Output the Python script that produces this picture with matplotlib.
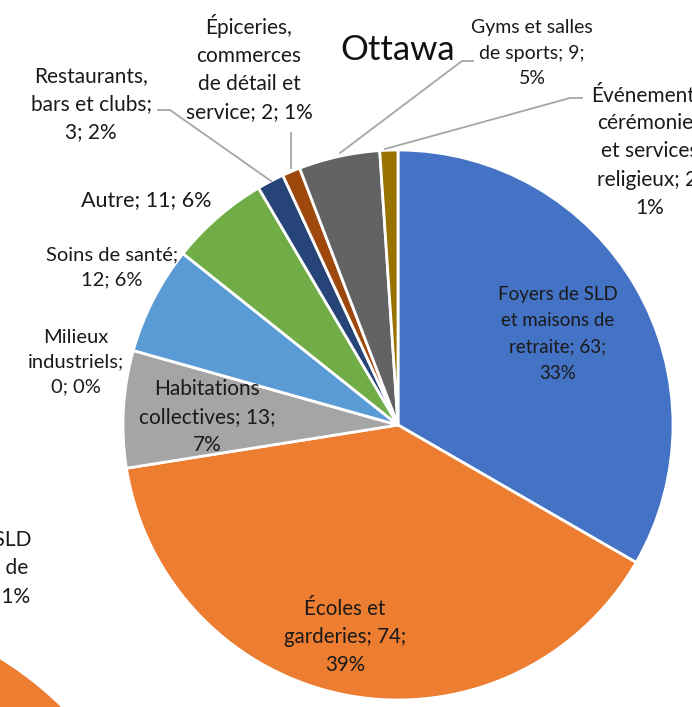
import matplotlib
matplotlib.use("Agg")
import matplotlib.pyplot as plt

# =========================
# DATA
# =========================
categories = [
    "Foyers de SLD et maisons de retraite",
    "Écoles et garderies",
    "Habitations collectives",
    "Milieux industriels",
    "Soins de santé",
    "Autre",
    "Restaurants, bars et clubs",
    "Épiceries, commerces de détail et service",
    "Gyms et salles de sports",
    "Événements, cérémonies et services religieux",
]
counts = [63, 74, 13, 0, 12, 11, 3, 2, 9, 2]
percents = [33, 39, 7, 0, 6, 6, 2, 1, 5, 1]
label_text = [
    "Foyers de SLD\net maisons de\nretraite; 63;\n33%",
    "Écoles et\ngarderies; 74;\n39%",
    "Habitations\ncollectives; 13;\n7%",
    "Milieux\nindustriels;\n0; 0%",
    "Soins de santé;\n12; 6%",
    "Autre; 11; 6%",
    "Restaurants,\nbars et clubs;\n3; 2%",
    "Épiceries,\ncommerces\nde détail et\nservice; 2; 1%",
    "Gyms et salles\nde sports; 9;\n5%",
    "Événements,\ncérémonies\net services\nreligieux; 2;\n1%",
]
colors = ["#4472C4", "#ED7D31", "#A5A5A5", "#FFC000", "#5B9BD5",
          "#70AD47", "#264478", "#9E480E", "#636363", "#997300"]

W, H = 692, 707

# label centres (pixel coords, y from top) and font sizes
label_pos = [(558, 334), (345, 637), (207, 417), (76, 362), (112, 267),
             (146, 200), (91, 104), (249, 68), (532, 53), (650, 150)]
label_size = [13.5, 14.8, 15, 14.5, 14.5, 15.5, 15, 15, 14, 15]

# leader lines: (slice index, points)
leaders = {
    6: [(158, 110), (170, 110), (271, 181)],
    7: [(291, 133), (291, 168)],
    8: [(473, 61), (462, 61), (340, 153)],
    9: [(582, 98), (570, 98), (385, 149)],
}

# =========================
# PLOT
# =========================
plt.rcParams["font.family"] = ["Lato", "DejaVu Sans"]
fig = plt.figure(figsize=(W / 100, H / 100), dpi=100)
ax = fig.add_axes([0, 0, 1, 1])

ax.pie(counts, colors=colors, startangle=90, counterclock=False,
       center=(398, H - 425), radius=275, frame=True,
       wedgeprops=dict(edgecolor="white", linewidth=2))

for i, txt in enumerate(label_text):
    x, y = label_pos[i]
    size = label_size[i]
    ax.text(x, H - y, txt, ha="center", va="center", fontsize=size,
            color="#1a1a1a", linespacing=28.5 / (size * 100 / 72 * 0.91))

for i, pts in leaders.items():
    xs = [p[0] for p in pts]
    ys = [H - p[1] for p in pts]
    ax.plot(xs, ys, color="#A6A6A6", linewidth=1.3)

ax.text(398, H - 50, "Ottawa", ha="center", va="center", fontsize=25,
        color="#111111")

# fragments of the neighbouring chart, cut by the crop
ax.text(-35, H - 568, "Foyers de SLD\net maisons de\nretraite; 1; 1%",
        ha="center", va="center", fontsize=15, color="#1a1a1a",
        linespacing=28.5 / (15 * 100 / 72 * 0.91), clip_on=False)
ax.pie([1], colors=["#ED7D31"], center=(-181, -246), radius=345,
       frame=True)

ax.set_xlim(0, W)
ax.set_ylim(0, H)
ax.set_aspect("equal")
ax.axis("off")

fig.savefig("out.png", dpi=100)
